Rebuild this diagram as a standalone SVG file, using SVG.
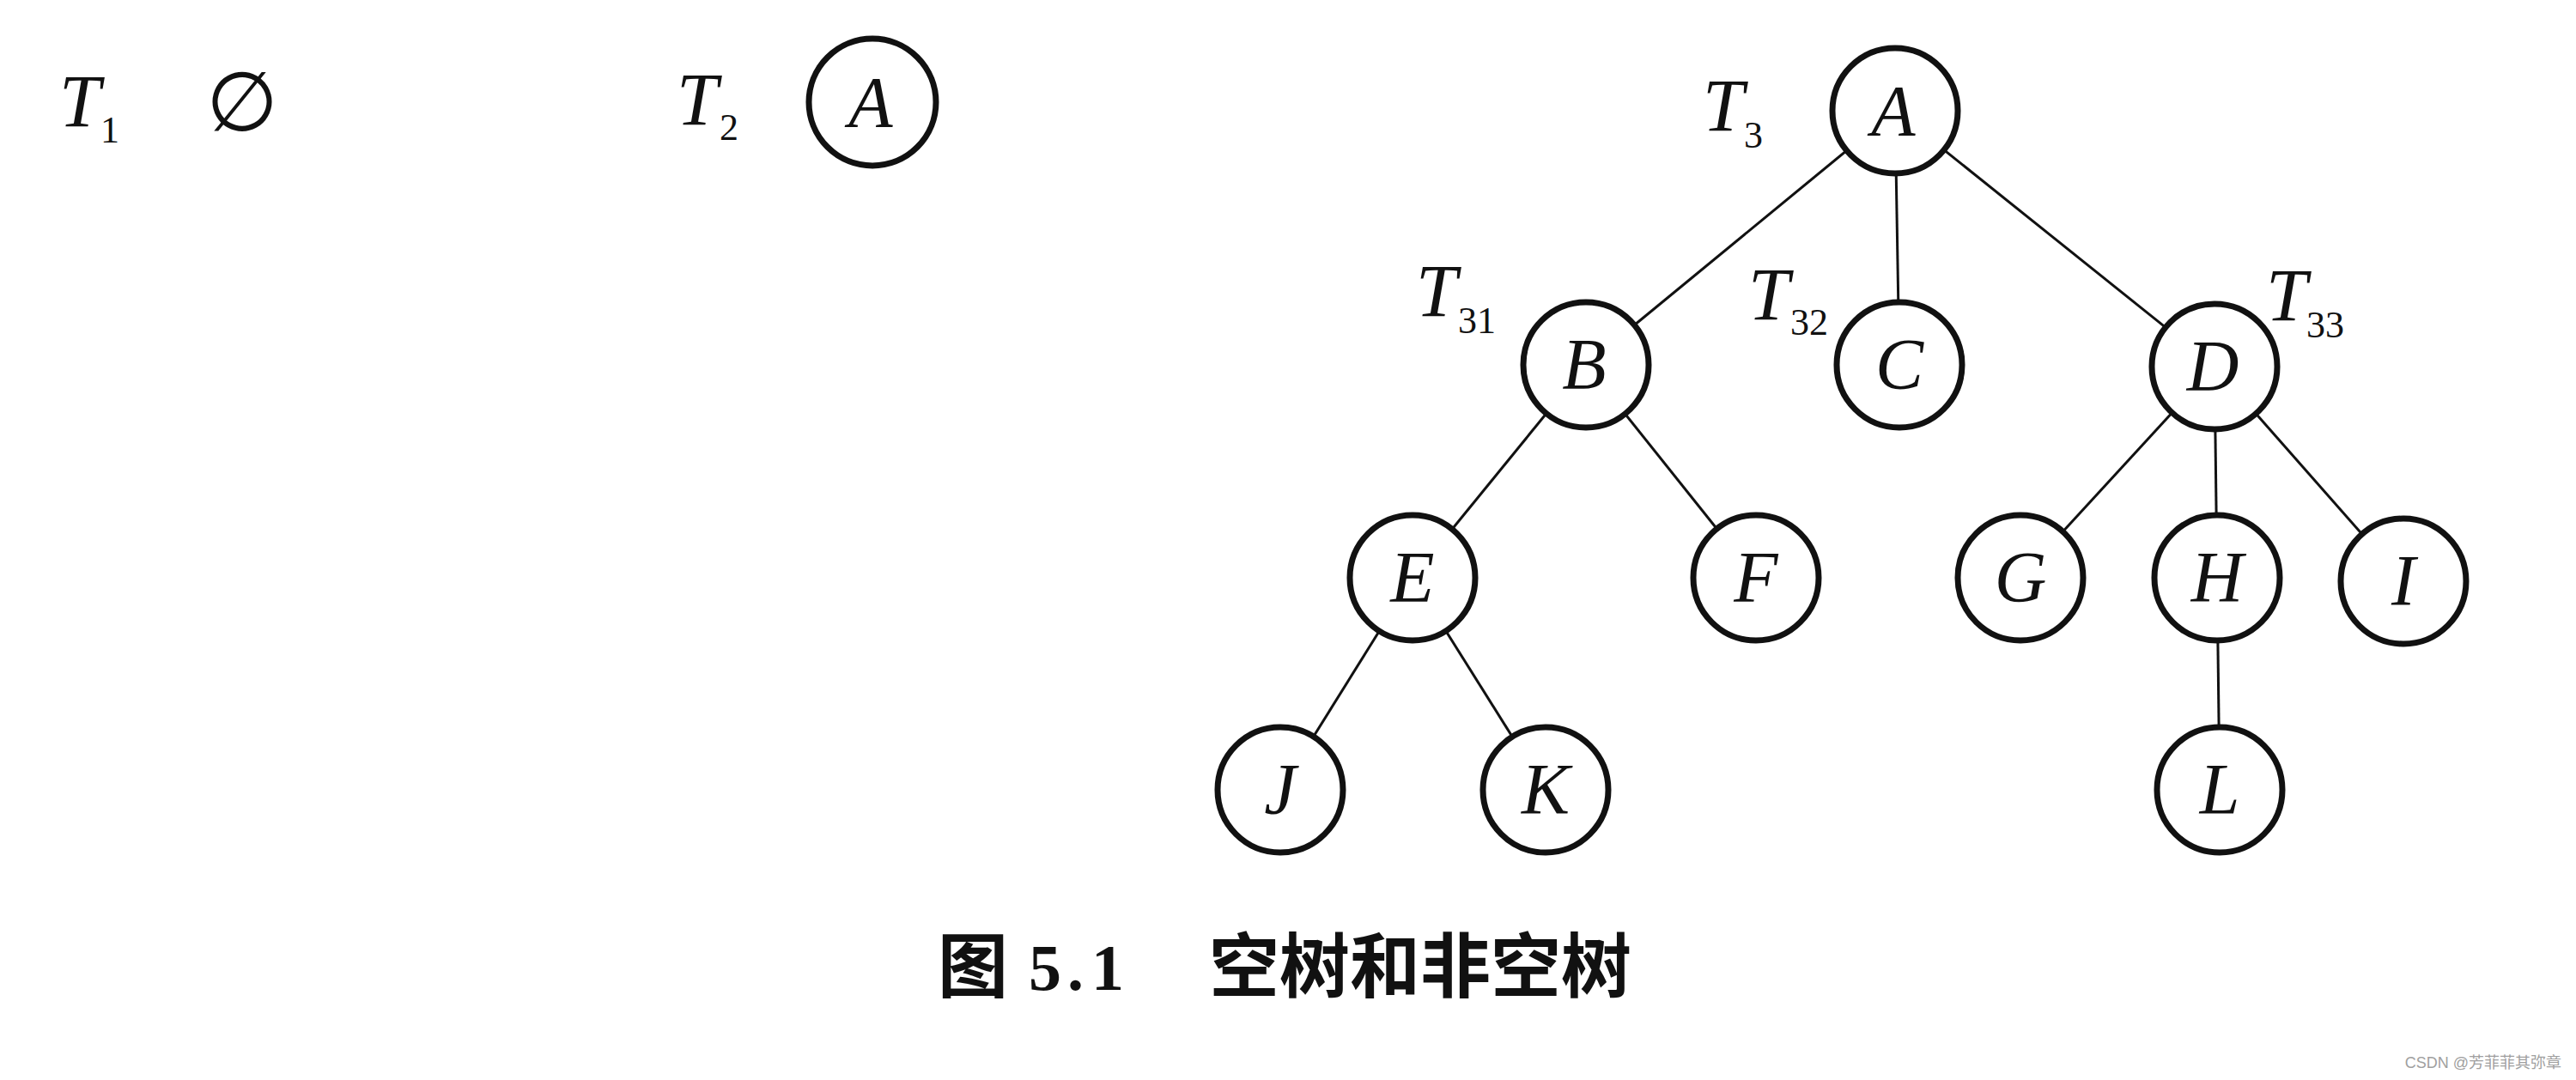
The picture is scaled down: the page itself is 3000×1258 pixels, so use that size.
<svg xmlns="http://www.w3.org/2000/svg" width="3000" height="1258" viewBox="0 0 3000 1258">
<style>
.node circle{fill:#fff;stroke:#111;stroke-width:7}
.lt{font-family:"Liberation Serif",serif;font-style:italic;font-size:84px;fill:#111;text-anchor:middle}
.tl{font-family:"Liberation Serif",serif;font-style:italic;font-size:86px;fill:#111}
.sub{font-family:"Liberation Serif",serif;font-size:44px;fill:#111}
.edges line{stroke:#111;stroke-width:3}
.cap{font-family:"Noto Sans CJK SC",sans-serif;font-weight:bold;font-size:82px;fill:#111}
.capn{font-family:"Liberation Serif",serif;font-weight:bold;font-size:76px;fill:#111}
</style>
<rect width="3000" height="1258" fill="#fff"/>
<g id="labels">
<text class="tl" x="69" y="147">T</text><text class="sub" x="117" y="166">1</text>
<text x="282" y="152" font-family="DejaVu Sans,sans-serif" font-size="96" fill="#111" text-anchor="middle">∅</text>
<text class="tl" x="788" y="145">T</text><text class="sub" x="838" y="163">2</text>
<text class="tl" x="1983" y="152">T</text><text class="sub" x="2031" y="172">3</text>
<text class="tl" x="1649" y="368">T</text><text class="sub" x="1698" y="388">31</text>
<text class="tl" x="2036" y="372">T</text><text class="sub" x="2085" y="390">32</text>
<text class="tl" x="2639" y="373">T</text><text class="sub" x="2686" y="393">33</text>
</g>
<g id="connectors" class="edges">
<line x1="2207" y1="129" x2="1847" y2="425" stroke-width="3.5"/>
<line x1="2207" y1="129" x2="2212" y2="425"/>
<line x1="2207" y1="129" x2="2579" y2="427" stroke-width="2"/>
<line x1="1847" y1="425" x2="1645" y2="673" stroke-width="2.5"/>
<line x1="1847" y1="425" x2="2045" y2="673" stroke-width="2.5"/>
<line x1="1645" y1="673" x2="1491" y2="920" stroke-width="2.5"/>
<line x1="1645" y1="673" x2="1800" y2="920" stroke-width="2.5"/>
<line x1="2579" y1="427" x2="2353" y2="673"/>
<line x1="2579" y1="427" x2="2582" y2="673" stroke-width="2.5"/>
<line x1="2579" y1="427" x2="2799" y2="677" stroke-width="2.5"/>
<line x1="2582" y1="673" x2="2585" y2="920" stroke-width="2"/>
</g>
<g id="t2-A" class="node"><circle cx="1016" cy="119" r="74"/><text class="lt" x="1014" y="148">A</text></g>
<g id="A" class="node"><circle cx="2207" cy="129" r="73"/><text class="lt" x="2205" y="158">A</text></g>
<g id="B" class="node"><circle cx="1847" cy="425" r="73"/><text class="lt" x="1845" y="453">B</text></g>
<g id="C" class="node"><circle cx="2212" cy="425" r="73"/><text class="lt" x="2212" y="453">C</text></g>
<g id="D" class="node"><circle cx="2579" cy="427" r="73"/><text class="lt" x="2577" y="455">D</text></g>
<g id="E" class="node"><circle cx="1645" cy="673" r="73"/><text class="lt" x="1645" y="701">E</text></g>
<g id="F" class="node"><circle cx="2045" cy="673" r="73"/><text class="lt" x="2045" y="701">F</text></g>
<g id="G" class="node"><circle cx="2353" cy="673" r="73"/><text class="lt" x="2353" y="701">G</text></g>
<g id="H" class="node"><circle cx="2582" cy="673" r="73"/><text class="lt" x="2582" y="701">H</text></g>
<g id="I" class="node"><circle cx="2799" cy="677" r="73"/><text class="lt" x="2799" y="705">I</text></g>
<g id="J" class="node"><circle cx="1491" cy="920" r="73"/><text class="lt" x="1491" y="948">J</text></g>
<g id="K" class="node"><circle cx="1800" cy="920" r="73"/><text class="lt" x="1800" y="948">K</text></g>
<g id="L" class="node"><circle cx="2585" cy="920" r="73"/><text class="lt" x="2585" y="948">L</text></g>
<g id="caption">
<text class="cap" x="1092" y="1155">图</text>
<text class="capn" x="1198 1243 1271" y="1153">5.1</text>
<text class="cap" x="1408" y="1155">空树和非空树</text>
</g>
<text x="2983" y="1244" font-family="'Liberation Sans','Noto Sans CJK SC',sans-serif" font-size="18" fill="#a0a0a0" text-anchor="end">CSDN @芳菲菲其弥章</text>
</svg>
